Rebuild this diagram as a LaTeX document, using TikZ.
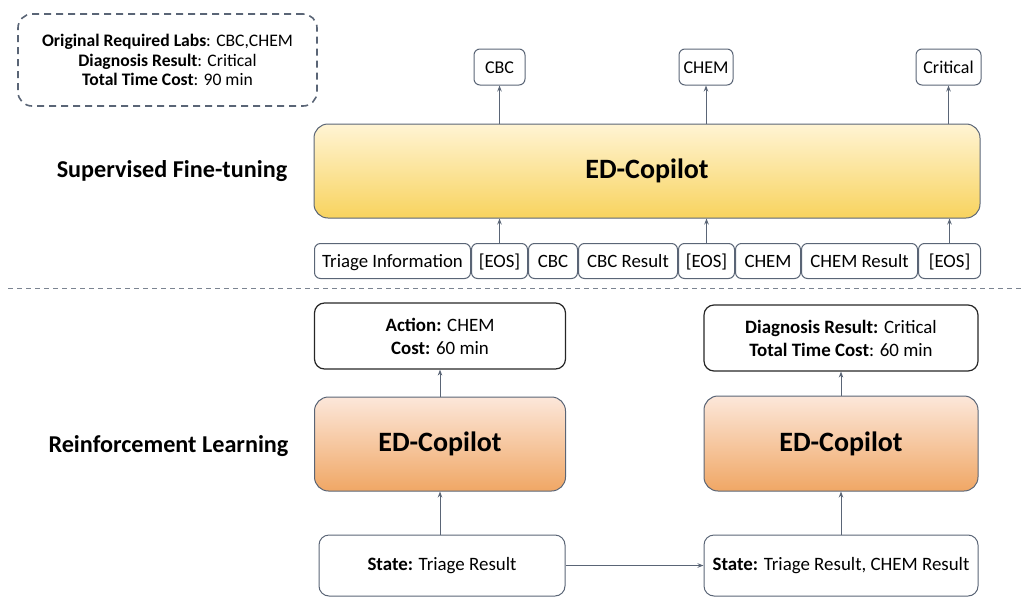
\documentclass[tikz,border=0pt]{standalone}
\usepackage{fontspec}
\setmainfont{Carlito}
\usetikzlibrary{arrows.meta}
\definecolor{edge}{HTML}{5A6576}
\definecolor{ylwtop}{HTML}{FFF4D4}
\definecolor{ylwbot}{HTML}{F8D35E}
\definecolor{orgtop}{HTML}{FCE7DA}
\definecolor{orgbot}{HTML}{F0A765}
\tikzset{
  fsz/.style 2 args={font=\fontsize{#1}{#2}\selectfont},
  token/.style={draw=edge, line width=1pt, rounded corners=6pt, minimum height=35pt, inner sep=0pt,
    text height=15pt, text depth=2pt, anchor=south west, fsz={18.8}{22}},
  outbox/.style={draw=edge, line width=1pt, rounded corners=6pt, minimum height=36pt, inner sep=0pt,
    text height=15pt, text depth=2pt, fsz={18}{21}},
  whitebox/.style={draw=black!85, line width=1.2pt, rounded corners=10pt, inner sep=0pt, align=center, fsz={18.9}{21}},
  statebox/.style={draw=edge, line width=1pt, rounded corners=10pt, inner sep=0pt, fsz={18.9}{22}},
  copilot/.style={draw=edge, line width=1pt, rounded corners=14pt, inner sep=0pt, font=\fontsize{28}{32}\selectfont\bfseries},
  flow/.style={draw=edge, line width=1pt, -{Stealth[length=6pt,width=4.5pt]}},
  phase/.style={font=\fontsize{24.2}{28}\selectfont\bfseries},
}
\begin{document}
\begin{tikzpicture}[x=1pt,y=-1pt]
\useasboundingbox (0,0) rectangle (1022,597);

% summary of the original trajectory
\node[draw=edge, line width=1.6pt, dash pattern=on 7pt off 5pt, rounded corners=14pt,
      minimum width=299pt, minimum height=92pt, align=center, fsz={17.6}{19.5}]
  (summary) at (167.5,60) {\textbf{Original Required Labs}: CBC,CHEM\\ \textbf{Diagnosis Result}: Critical\\ \textbf{Total Time Cost}: 90 min};

% ---------- supervised fine-tuning ----------
\node[phase] (sft) at (172,171) {Supervised Fine-tuning};

\node[copilot, minimum width=666pt, minimum height=94pt, top color=ylwtop, bottom color=ylwbot]
  (sftmodel) at (647,171) {ED-Copilot};

% input token sequence
\node[token, minimum width=156pt] (t1) at (314,279) {Triage Information};
\node[token, minimum width=56pt]  (t2) at (471,279) {[EOS]};
\node[token, minimum width=49pt]  (t3) at (528,279) {CBC};
\node[token, minimum width=99pt]  (t4) at (578,279) {CBC Result};
\node[token, minimum width=56pt]  (t5) at (678,279) {[EOS]};
\node[token, minimum width=65pt]  (t6) at (735,279) {CHEM};
\node[token, minimum width=116pt] (t7) at (801,279) {CHEM Result};
\node[token, minimum width=62pt]  (t8) at (918,279) {[EOS]};

% predicted outputs
\node[outbox, minimum width=51pt] (o1) at (499.5,67) {CBC};
\node[outbox, minimum width=54pt] (o2) at (706,67) {CHEM};
\node[outbox, minimum width=65pt] (o3) at (948.5,67) {Critical};

\draw[flow] (t2.north) -- (t2.north |- sftmodel.south);
\draw[flow] (t5.north) -- (t5.north |- sftmodel.south);
\draw[flow] (t8.north) -- (t8.north |- sftmodel.south);
\draw[flow] (sftmodel.north -| o1.south) -- (o1.south);
\draw[flow] (sftmodel.north -| o2.south) -- (o2.south);
\draw[flow] (sftmodel.north -| o3.south) -- (o3.south);

% phase separator
\coordinate (sepL) at (8,288);
\coordinate (sepR) at (1022,288);
\draw[edge!80, line width=1pt, dash pattern=on 5pt off 4pt] (sepL) -- (sepR);

% ---------- reinforcement learning ----------
\node[phase] (rl) at (168.5,446) {Reinforcement Learning};

% first step
\node[statebox, minimum width=246pt, minimum height=61pt] (s1) at (442,565.5) {\textbf{State:} Triage Result};
\node[copilot, minimum width=251pt, minimum height=94pt, top color=orgtop, bottom color=orgbot]
  (m1) at (440,444) {ED-Copilot};
\node[whitebox, minimum width=251pt, minimum height=66pt] (a1) at (440,336) {\textbf{Action:} CHEM\\[2pt] \textbf{Cost:} 60 min};

% second step
\node[statebox, minimum width=274pt, minimum height=61pt] (s2) at (841,565.5) {\textbf{State:} Triage Result, CHEM Result};
\node[copilot, minimum width=274pt, minimum height=95pt, top color=orgtop, bottom color=orgbot]
  (m2) at (841,443.5) {ED-Copilot};
\node[whitebox, minimum width=274pt, minimum height=66pt] (a2) at (841,338) {\textbf{Diagnosis Result:} Critical\\[2pt] \textbf{Total Time Cost}: 60 min};

\draw[flow] (s1.north -| m1.south) -- (m1.south);
\draw[flow] (m1.north) -- (a1.south);
\draw[flow] (s2.north) -- (m2.south);
\draw[flow] (m2.north) -- (a2.south);
\draw[flow] (s1.east) -- (s2.west);
\end{tikzpicture}
\end{document}
